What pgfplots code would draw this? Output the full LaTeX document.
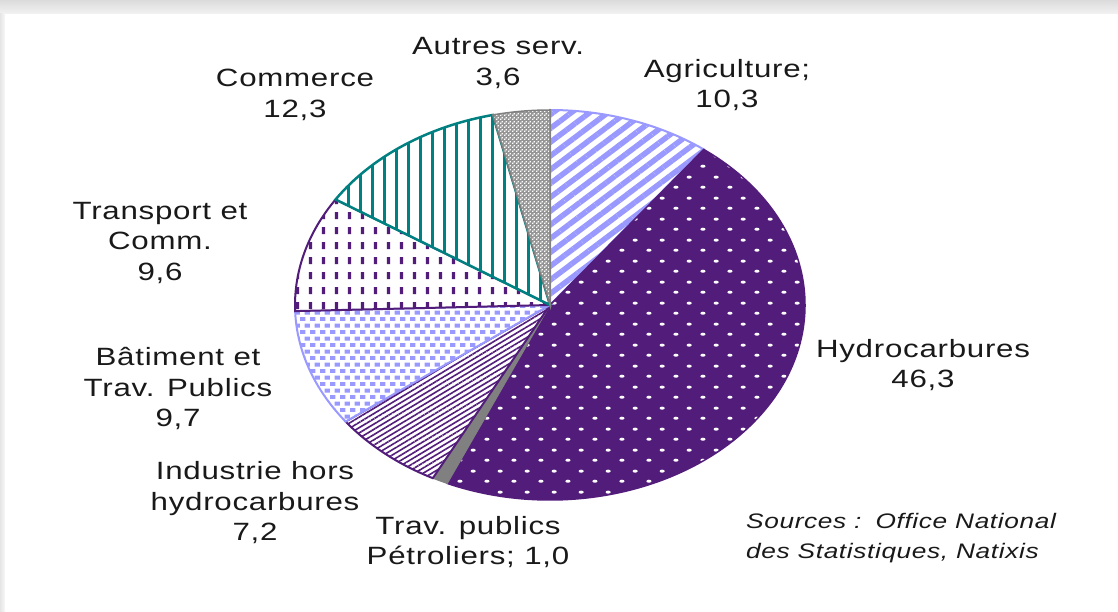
\documentclass[border=0pt]{standalone}
\usepackage{pgfplots}
\pgfplotsset{compat=1.18}
\usepackage{pgfplotstable}
\usepackage{fontspec}
\setmainfont{Liberation Sans}[FakeStretch=1.25,LetterSpace=3]
\usetikzlibrary{patterns,patterns.meta}

\definecolor{hpurple}{RGB}{82,28,122}
\definecolor{lav}{RGB}{153,153,255}
\definecolor{tealc}{RGB}{0,128,128}
\definecolor{grc}{RGB}{128,128,128}
\definecolor{grdark}{RGB}{150,150,150}
\definecolor{txt}{RGB}{25,25,25}

\pgfdeclarepatternformonly{hydrodots}{\pgfpoint{0bp}{0bp}}{\pgfpoint{26.7bp}{21bp}}{\pgfpoint{26.7bp}{21bp}}{%
  \pgfpathellipse{\pgfpoint{6bp}{5bp}}{\pgfpoint{2.6bp}{0bp}}{\pgfpoint{0bp}{1.6bp}}%
  \pgfpathellipse{\pgfpoint{19.35bp}{15.5bp}}{\pgfpoint{2.6bp}{0bp}}{\pgfpoint{0bp}{1.6bp}}%
  \pgfusepath{fill}}
\pgfdeclarepatternformonly{btpblocks}{\pgfpoint{0bp}{0bp}}{\pgfpoint{10bp}{13.4bp}}{\pgfpoint{10bp}{13.4bp}}{%
  \pgfpathrectangle{\pgfpoint{0bp}{0bp}}{\pgfpoint{6bp}{4bp}}%
  \pgfpathrectangle{\pgfpoint{5bp}{6.7bp}}{\pgfpoint{6bp}{4bp}}%
  \pgfusepath{fill}}
\pgfdeclarepatternformonly{trdashes}{\pgfpoint{0bp}{0bp}}{\pgfpoint{13.3bp}{15bp}}{\pgfpoint{13.3bp}{15bp}}{%
  \pgfpathrectangle{\pgfpoint{4bp}{3bp}}{\pgfpoint{3.6bp}{7.5bp}}%
  \pgfusepath{fill}}
\pgfdeclarepatternformonly{checks}{\pgfpoint{0bp}{0bp}}{\pgfpoint{4bp}{4bp}}{\pgfpoint{4bp}{4bp}}{%
  \pgfpathrectangle{\pgfpoint{0bp}{0bp}}{\pgfpoint{1.6bp}{1.6bp}}%
  \pgfpathrectangle{\pgfpoint{2bp}{2bp}}{\pgfpoint{1.6bp}{1.6bp}}%
  \pgfusepath{fill}}

\tikzset{
  wedge0/.style={draw=lav,line width=2bp,preaction={fill=white},pattern={Lines[angle=37,distance=11bp,line width=5.5bp]},pattern color=lav},
  wedge1/.style={draw=hpurple,line width=1.5bp,preaction={fill=hpurple},pattern=hydrodots,pattern color=white},
  wedge2/.style={draw=grc,line width=1bp,fill=grc},
  wedge3/.style={draw=hpurple,line width=2bp,preaction={fill=white},pattern={Lines[angle=31,distance=4.5bp,line width=1.6bp]},pattern color=hpurple},
  wedge4/.style={draw=lav,line width=2bp,preaction={fill=white},pattern=btpblocks,pattern color=lav},
  wedge5/.style={draw=hpurple,line width=2bp,preaction={fill=white},pattern=trdashes,pattern color=hpurple},
  wedge6/.style={draw=tealc,line width=2.5bp,preaction={fill=white},pattern={Lines[angle=90,distance=12bp,line width=3bp]},pattern color=tealc},
  wedge7/.style={draw=grc,line width=1.5bp,preaction={fill=grdark},pattern=checks,pattern color=white},
}

\pgfplotstableread{
label value
Agriculture 10.3
Hydrocarbures 46.3
TravPublicsPetroliers 1.0
IndustrieHorsHydrocarbures 7.2
BatimentTP 9.7
TransportComm 9.6
Commerce 12.3
AutresServ 3.6
}\piedata

\newcommand{\lab}{\fontsize{25bp}{30.5bp}\selectfont\color{txt}}

\begin{document}
\begin{tikzpicture}
\begin{axis}[
  scale only axis, width=1118bp, height=612bp,
  xmin=0, xmax=1118, ymin=0, ymax=612,
  hide axis, clip=false,
]
\shade[top color=black!14, bottom color=black!5] (axis cs:0,598) rectangle (axis cs:1118,612);
\shade[left color=black!10, right color=black!3] (axis cs:0,0) rectangle (axis cs:5,598);
\def\acc{90}
\pgfplotsforeachungrouped \i in {0,...,7}{%
  \pgfplotstablegetelem{\i}{value}\of\piedata
  \pgfmathsetmacro\aend{\acc-3.6*\pgfplotsretval}%
  \edef\temp{\noexpand\path[wedge\i] (axis cs:550,307) -- ++(\acc:255bp and 195bp) arc[start angle=\acc,end angle=\aend,x radius=255bp,y radius=195bp] -- cycle;}%
  \temp
  \global\let\acc\aend
}
\node[align=center, font=\lab, inner sep=0pt] at (axis cs:498,549) {Autres serv.\\3,6};
\node[align=center, font=\lab, inner sep=0pt] at (axis cs:727,527) {Agriculture;\\10,3};
\node[align=center, font=\lab, inner sep=0pt] at (axis cs:295,517) {Commerce\\12,3};
\node[align=center, font=\lab, inner sep=0pt] at (axis cs:160,369) {Transport et\\Comm.\\9,6};
\node[align=center, font=\lab, inner sep=0pt] at (axis cs:178,223) {Bâtiment et\\Trav. Publics\\9,7};
\node[align=center, font=\lab, inner sep=0pt] at (axis cs:255,109) {Industrie hors\\hydrocarbures\\7,2};
\node[align=center, font=\lab, inner sep=0pt] at (axis cs:468,70) {Trav. publics\\Pétroliers; 1,0};
\node[align=center, font=\lab, inner sep=0pt] at (axis cs:923,247) {Hydrocarbures\\46,3};
\node[align=left, anchor=west, font={\fontsize{21bp}{30bp}\selectfont\itshape\color{txt}}, inner sep=0pt] at (axis cs:746,74) {Sources :\, Office National\\des Statistiques, Natixis};
\end{axis}
\end{tikzpicture}
\end{document}
